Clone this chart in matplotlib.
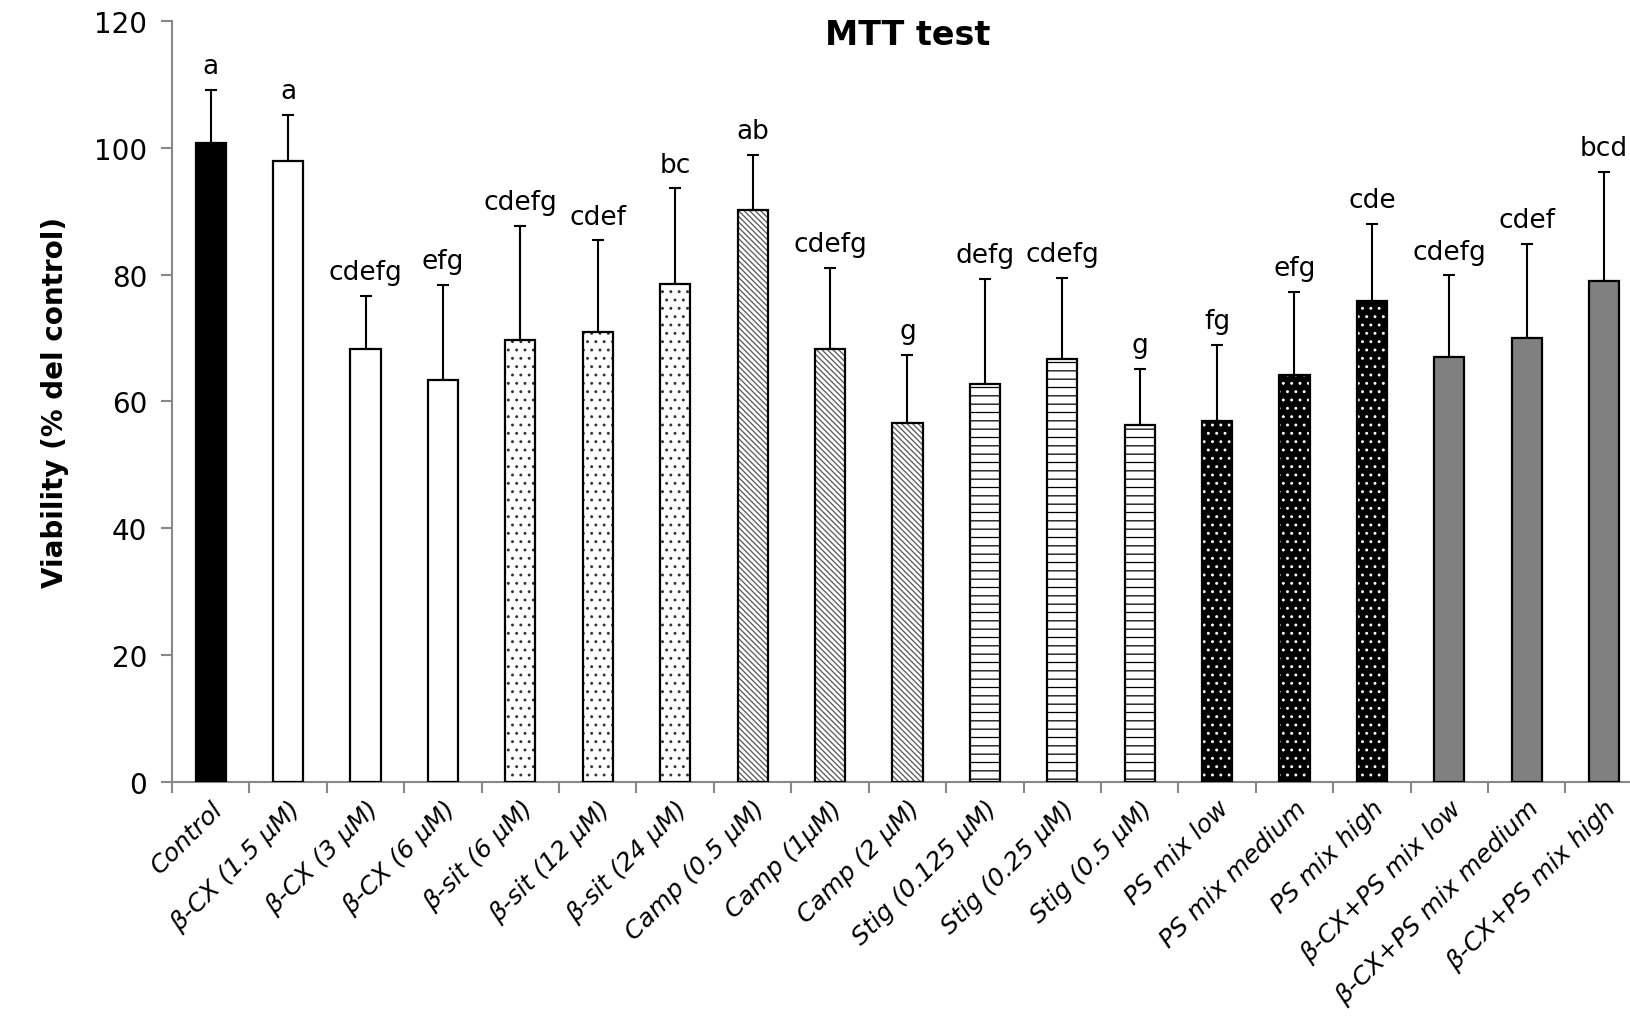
import matplotlib
matplotlib.use("Agg")
import matplotlib.pyplot as plt
import numpy as np

# viability (% of control), upper SD and letters of the post-hoc test
groups = ["Control", "β-CX (1.5 μM)", "β-CX (3 μM)", "β-CX (6 μM)",
          "β-sit (6 μM)", "β-sit (12 μM)", "β-sit (24 μM)",
          "Camp (0.5 μM)", "Camp (1μM)", "Camp (2 μM)",
          "Stig (0.125 μM)", "Stig (0.25 μM)", "Stig (0.5 μM)",
          "PS mix low", "PS mix medium", "PS mix high",
          "β-CX+PS mix low", "β-CX+PS mix medium", "β-CX+PS mix high"]
viability = [100.7, 97.9, 68.2, 63.4,
             69.7, 70.9, 78.5,
             90.2, 68.3, 56.6,
             62.8, 66.7, 56.3,
             57.0, 64.1, 75.9,
             67.0, 70.0, 79.0]
sd = [8.4, 7.3, 8.5, 15.0,
      18.0, 14.5, 15.1,
      8.7, 12.8, 10.8,
      16.5, 12.8, 8.9,
      11.9, 13.2, 12.1,
      12.9, 14.9, 17.2]
letters = ["a", "a", "cdefg", "efg",
           "cdefg", "cdef", "bc",
           "ab", "cdefg", "g",
           "defg", "cdefg", "g",
           "fg", "efg", "cde",
           "cdefg", "cdef", "bcd"]

# fill / hatch / hatch colour for each compound group
styles = {
    "ctrl": ("black", "", "black"),
    "bcx": ("white", "", "black"),
    "bsit": ("white", "..", "#333333"),
    "camp": ("white", "\\\\\\\\\\\\", "#555555"),
    "stig": ("white", "--", "black"),
    "ps": ("black", "..", "white"),
    "mix": ("#808080", "", "black"),
}
group_style = ["ctrl", "bcx", "bcx", "bcx",
               "bsit", "bsit", "bsit",
               "camp", "camp", "camp",
               "stig", "stig", "stig",
               "ps", "ps", "ps",
               "mix", "mix", "mix"]

plt.rcParams["font.family"] = ["DejaVu Sans"]
plt.rcParams["hatch.linewidth"] = 0.9

fig = plt.figure(figsize=(16.31, 10.20), dpi=100)
ax = fig.add_axes([0.1055, 0.2324, 0.9017, 0.746])

x = np.arange(len(groups)) + 0.5
width = 0.39

for xi, v, key in zip(x, viability, group_style):
    face, hatch, hcol = styles[key]
    ax.bar(xi, v, width, color=face, hatch=hatch, edgecolor=hcol,
           linewidth=0, zorder=2)
ax.bar(x, viability, width, fill=False, edgecolor="black",
       linewidth=1.6, zorder=3)

ax.errorbar(x, viability, yerr=[np.zeros(len(sd)), sd], fmt="none",
            ecolor="black", elinewidth=1.5, capsize=4, capthick=1.5,
            zorder=1)

for xi, v, s, lab in zip(x, viability, sd, letters):
    ax.annotate(lab, (xi, v + s), xytext=(0, 12), textcoords="offset points",
                ha="center", va="baseline", fontsize=19)

ax.set_xlim(0, len(groups))
ax.set_ylim(0, 120)
ax.set_yticks(np.arange(0, 121, 20))
ax.set_xticks(np.arange(0, len(groups) + 1))
ax.set_xticklabels([])
ax.set_xticks(x, minor=True)
ax.set_xticklabels(groups, minor=True, rotation=45, ha="right",
                   rotation_mode="anchor", fontsize=18, style="italic")
ax.tick_params(axis="x", which="minor", length=0, pad=10)
ax.tick_params(axis="x", which="major", length=8, width=1.5, color="#888888")
ax.tick_params(axis="y", length=8, width=1.5, color="#888888", pad=10,
               labelsize=20)

for side in ("top", "right"):
    ax.spines[side].set_visible(False)
for side in ("left", "bottom"):
    ax.spines[side].set_color("#888888")
    ax.spines[side].set_linewidth(1.5)

ax.set_ylabel("Viability (% del control)", fontsize=20, fontweight="bold",
              labelpad=18)
ax.text(0.5, 0.982, "MTT test", transform=ax.transAxes, ha="center",
        va="center", fontsize=24, fontweight="bold")

fig.savefig("out.png", dpi=100)
